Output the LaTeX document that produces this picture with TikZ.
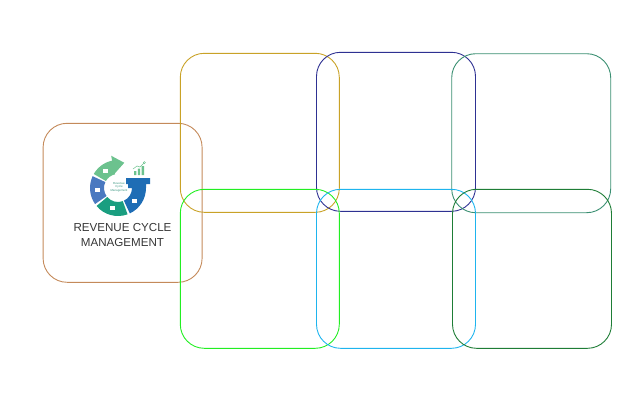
\documentclass[tikz,border=0pt]{standalone}
\usepackage{fontspec}
\setmainfont{Liberation Sans}
\definecolor{cBrown}{HTML}{C48A5A}
\definecolor{cGold}{HTML}{C9A227}
\definecolor{cNavy}{HTML}{2E3192}
\definecolor{cTeal}{HTML}{3A8F72}
\definecolor{cLime}{HTML}{22EE22}
\definecolor{cCyan}{HTML}{1EB4EE}
\definecolor{cDkGreen}{HTML}{1E7D36}
\definecolor{cText}{HTML}{363636}
\definecolor{ringGreen}{HTML}{6CC28E}
\definecolor{ringBlue}{HTML}{4A79C0}
\definecolor{ringTeal}{HTML}{1A9E80}
\definecolor{ringNavy}{HTML}{1E6DB5}
\begin{document}
\begin{tikzpicture}[x=1pt,y=-1pt,
  card/.style={draw,rounded corners=24pt,minimum width=159pt,minimum height=159pt,line width=0.9pt,inner sep=0pt}]
\useasboundingbox (0,0) rectangle (640,400);
\node[card,draw=cBrown] (rcm) at (122.6,202.8) {};
\node[card,draw=cGold] (b1) at (259.8,132.8) {};
\node[card,draw=cNavy] (b2) at (396,131.8) {};
\node[card,draw=cTeal] (b3) at (531.2,133.2) {};
\node[card,draw=cLime] (b4) at (259.8,268.8) {};
\node[card,draw=cCyan] (b5) at (396,268.8) {};
\node[card,draw=cDkGreen] (b6) at (532,268.8) {};
\node[text=cText,align=center,font=\fontsize{11.6}{15}\selectfont] (title) at (122.5,235) {REVENUE CYCLE\\MANAGEMENT};
\begin{scope}[shift={(118,188)},x=1pt,y=1pt]
\fill[ringGreen] (150:14) arc(150:102:14) -- (102:15) -- (76:26) -- (102:33) -- (102:28) arc(102:150:28) -- cycle;
\fill[ringBlue] (155:14) arc(155:215:14) -- (215:28) arc(215:155:28) -- cycle;
\fill[ringTeal] (220:14) arc(220:290:14) -- (290:28) arc(290:220:28) -- cycle;
\fill[ringNavy] (295:14) arc(295:360:14) -- (10,0) -- (10,4) -- (8,4) -- (8,10) -- (32,10) -- (32,4) -- (28,4) -- (28,0) arc(0:-65:28) -- cycle;
\foreach \a in {125,185,255,322} \fill[white] (\a:21) +(-2.5,-2) rectangle +(2.5,2);
\fill[ringGreen] (16,13) rectangle ++(2.4,4) (19.8,13) rectangle ++(2.4,6.5) (23.6,13) rectangle ++(2.4,9);
\draw[ringGreen,line width=0.5pt] (15,19) -- (19,22) -- (22,21) -- (25.5,24.5) (26.4,25.4) circle (1.1);
\node[font=\fontsize{2.9}{3.4}\selectfont,text=ringTeal!70!gray,align=center] (ringtxt) at (1,1) {Revenue\\Cycle\\Management};
\end{scope}
\end{tikzpicture}
\end{document}
